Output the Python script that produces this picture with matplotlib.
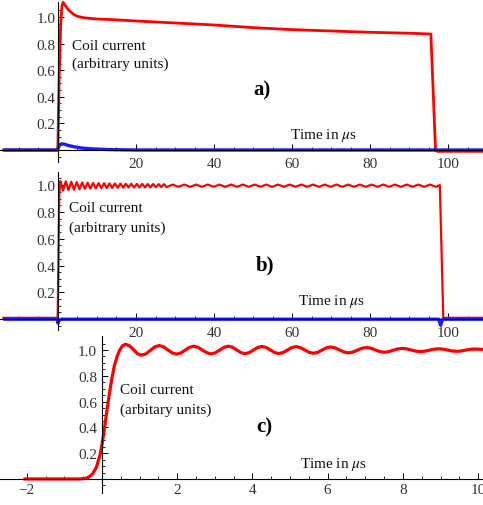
import numpy as np
import matplotlib
matplotlib.use("Agg")
import matplotlib.pyplot as plt
from matplotlib.ticker import FixedLocator, NullFormatter, FixedFormatter

plt.rcParams['font.family'] = ['Liberation Serif', 'DejaVu Serif']
plt.rcParams['mathtext.fontset'] = 'stix'

# ---------------- data ----------------
# panel a
ta_red = [-14.0, -0.05, 0.3, 0.7, 1.0, 1.3, 1.8, 2.5, 3.2, 4.0, 5.0, 6.5, 8.0, 10, 14, 20,
          30, 40, 50, 60, 70, 80, 90, 95.6, 96.8, 97.2, 110]
va_red = [0.0, 0.0, 0.55, 0.95, 1.08, 1.11, 1.09, 1.06, 1.04, 1.02, 1.005, 0.995, 0.99, 0.985,
          0.98, 0.97, 0.955, 0.94, 0.92, 0.905, 0.895, 0.885, 0.878, 0.872, 0.0, -0.01, -0.01]
ta_blue = [-13.6, -0.2, 0.3, 0.8, 1.5, 2.5, 4, 6, 9, 13, 20, 110]
va_blue = [0.0, 0.0, 0.03, 0.045, 0.045, 0.035, 0.025, 0.015, 0.008, 0.003, 0.0, 0.0]

# panel b
tb_red = [-14.0, -0.1, 0.1, 0.3, 0.5,
          0.6, 1.3, 2.0, 2.7, 3.4, 4.1, 4.8, 5.5, 6.2, 6.9, 7.6, 8.3, 9.0, 9.7, 10.4, 11.1,
          11.8, 12.5, 13.2, 13.9, 14.6, 15.3, 16.0, 16.7, 17.4, 18.1, 18.8, 19.5, 20.2, 20.9,
          21.6, 22.3, 23.0, 23.7, 24.4, 25.1, 25.8, 26.5, 27.2, 27.9,
          29.4, 30.9, 32.4, 33.9, 35.4, 36.9, 38.4, 39.9, 41.4, 42.9, 44.4, 45.9, 47.4, 48.9,
          50.4, 51.9, 53.4, 54.9, 56.4, 57.9, 59.4, 60.9, 62.4, 63.9, 65.4, 66.9, 68.4, 69.9,
          71.4, 72.9, 74.4, 75.9, 77.4, 78.9, 80.4, 81.9, 83.4, 84.9, 86.4, 87.9, 89.4, 90.9,
          92.4, 93.9, 95.4, 96.9, 97.9, 98.8, 99.3, 110]
vb_red = [0.01, 0.01, 0.4, 0.9, 1.0,
          1.03, 0.96, 1.028, 0.963, 1.025, 0.966, 1.022, 0.969, 1.02, 0.972, 1.018, 0.974,
          1.016, 0.976, 1.015, 0.977, 1.014, 0.978, 1.013, 0.979, 1.012, 0.98, 1.011, 0.981,
          1.01, 0.982, 1.01, 0.982, 1.009, 0.983, 1.009, 0.983, 1.008, 0.984, 1.008, 0.984,
          1.007, 0.985, 1.007, 0.985,
          1.004, 0.987, 1.004, 0.987, 1.004, 0.987, 1.004, 0.987, 1.004, 0.987, 1.004, 0.987,
          1.004, 0.987, 1.004, 0.987, 1.004, 0.987, 1.004, 0.987, 1.004, 0.987, 1.004, 0.987,
          1.004, 0.987, 1.004, 0.987, 1.004, 0.987, 1.004, 0.987, 1.004, 0.987, 1.004, 0.987,
          1.004, 0.987, 1.004, 0.987, 1.004, 0.987, 1.004, 0.987, 1.004, 0.987, 1.0, 0.0,
          0.01, 0.01]
tb_blue = [-13.6, -0.2, 0.0, 0.3, 0.8, 97.6, 98.1, 98.6, 110]
vb_blue = [0.0, 0.0, -0.03, -0.01, 0.0, 0.0, -0.045, 0.0, 0.0]

# panel c
tc = [-2.05, -0.6, -0.45, -0.35, -0.25, -0.15, -0.05, 0.0, 0.06, 0.12, 0.19, 0.26, 0.33,
      0.40, 0.47, 0.54, 0.62,
      0.73, 0.84, 0.94, 1.05, 1.17, 1.285, 1.40, 1.52, 1.635, 1.75, 1.865, 1.98,
      2.095, 2.21, 2.325, 2.44, 2.555, 2.67, 2.785, 2.90, 3.015, 3.13, 3.245, 3.36,
      3.47, 3.58, 3.69, 3.80, 3.9125, 4.025, 4.1375, 4.25, 4.3625, 4.475, 4.5875, 4.70,
      4.815, 4.93, 5.045, 5.16, 5.275, 5.39, 5.505, 5.62, 5.735, 5.85, 5.965, 6.08,
      6.1975, 6.315, 6.4325, 6.55, 6.67, 6.79, 6.91, 7.03, 7.1475, 7.265, 7.3825, 7.50,
      7.62, 7.74, 7.86, 7.98, 8.10, 8.22, 8.34, 8.46, 8.5825, 8.705, 8.8275, 8.95,
      9.07, 9.19, 9.31, 9.43, 9.5475, 9.665, 9.7825, 9.90, 10.13]
vc = [0.0, 0.0, 0.003, 0.015, 0.04, 0.09, 0.19, 0.27, 0.38, 0.51, 0.65, 0.78, 0.88,
      0.95, 1.0, 1.032, 1.045,
      1.033, 1.003, 0.972, 0.96, 0.971, 0.9975, 1.024, 1.035, 1.025, 1.0015, 0.978, 0.968,
      0.977, 0.999, 1.021, 1.03, 1.021, 1.0, 0.979, 0.97, 0.979, 1.0, 1.021, 1.03,
      1.0215, 1.001, 0.9805, 0.972, 0.98, 1.0, 1.02, 1.028, 1.02, 1.0, 0.981, 0.973,
      0.981, 1.0, 1.019, 1.027, 1.019, 1.001, 0.9826, 0.975, 0.982, 1.0, 1.017, 1.024,
      1.017, 1.001, 0.985, 0.978, 0.984, 0.999, 1.014, 1.02, 1.0146, 1.0015, 0.9884, 0.983,
      0.9874, 0.998, 1.0086, 1.013, 1.0093, 1.0005, 0.9917, 0.988, 0.9912, 0.999, 1.0068, 1.01,
      1.007, 1.0, 0.993, 0.99, 0.9926, 0.999, 1.0054, 1.008, 1.005]

ytick_major = [0.2, 0.4, 0.6, 0.8, 1.0]
ytick_labels = ['0.2', '0.4', '0.6', '0.8', '1.0']
xa_major = [20, 40, 60, 80, 100]
xa_labels = ['20', '40', '60', '80', '100']
xc_major = [-2, 2, 4, 6, 8, 10]
xc_labels = ['\u22122', '2', '4', '6', '8', '10']

W, H = 483, 506
fig = plt.figure(figsize=(W / 100, H / 100), dpi=100)


def add_ax(top_px, bottom_px):
    return fig.add_axes([0, 1 - bottom_px / H, 1, (bottom_px - top_px) / H])


def style(ax, xmaj, xlab, xmin, ymin_bound, ytop_bound, xpad, ypad):
    for s in ['top', 'right']:
        ax.spines[s].set_visible(False)
    ax.spines['left'].set_position(('data', 0))
    ax.spines['bottom'].set_position(('data', 0))
    ax.spines['left'].set_bounds(ymin_bound, ytop_bound)
    for s in ['left', 'bottom']:
        ax.spines[s].set_linewidth(0.8)
        ax.spines[s].set_zorder(6)
    ax.xaxis.set_major_locator(FixedLocator(xmaj))
    ax.xaxis.set_major_formatter(FixedFormatter(xlab))
    ax.xaxis.set_minor_locator(FixedLocator(xmin))
    ax.yaxis.set_major_locator(FixedLocator(ytick_major))
    ax.yaxis.set_major_formatter(FixedFormatter(ytick_labels))
    ymin_t = [v for v in np.arange(-0.05, 1.1, 0.05) if v >= ymin_bound - 1e-9
              and all(abs(v - m) > 1e-6 for m in ytick_major + [0.0])]
    ax.yaxis.set_minor_locator(FixedLocator(ymin_t))
    ax.tick_params(which='both', direction='in', colors='black', labelcolor='#333333',
                   labelsize=11)
    ax.tick_params(which='major', length=4.5, width=0.7)
    ax.tick_params(which='minor', length=2.5, width=0.6)
    ax.tick_params(axis='x', pad=xpad)
    ax.tick_params(axis='y', pad=ypad)
    ax.patch.set_alpha(0)


def ftext(x, y, s, **kw):
    fig.text(x / W, 1 - y / H, s, va='center', **kw)


# ----- panel a -----
axa = add_ax(0, 164.3)
axa.plot(ta_red, va_red, color='#ff0000', lw=2.0, zorder=3)
axa.plot(ta_blue, va_blue, color='#1a1aff', lw=2.4, zorder=4)
axa.set_xlim(-14.87, 108.97)
axa.set_ylim(-0.1, 1.1353)
xa_minor = [v for v in range(-10, 110, 5) if v not in xa_major and v != 0]
style(axa, xa_major, xa_labels, xa_minor, -0.09, 1.11, 5, 2)

# ----- panel b -----
axb = add_ax(168, 333.6)
axb.plot(tb_red, vb_red, color='#ff0000', lw=1.6, zorder=3)
axb.plot(tb_blue, vb_blue, color='#1a1aff', lw=2.4, zorder=4)
axb.set_xlim(-14.87, 108.97)
axb.set_ylim(-0.1, 1.135)
style(axb, xa_major, xa_labels, xa_minor, -0.08, 1.1, 5, 2)

# ----- panel c -----
axc = add_ax(337, 506)
axc.plot(tc, vc, color='#ff0000', lw=2.3, zorder=3)
axc.set_xlim(-2.713, 10.13)
axc.set_ylim(-0.202, 1.109)
xc_minor = [v for v in np.arange(-2, 10.01, 0.5) if all(abs(v - m) > 1e-6 for m in xc_major + [0])]
style(axc, xc_major, xc_labels, xc_minor, -0.11, 1.11, 3, 3.5)

# ----- texts -----
fs = 11
for (xx, y1, y2, line2) in [(72, 46, 64, '(arbitrary units)'),
                            (69, 209, 228, '(arbitrary units)'),
                            (120, 391, 410, '(arbitary units)')]:
    ftext(xx, y1, 'Coil current', fontsize=fs, color='#111111')
    ftext(xx, y2, line2, fontsize=fs, color='#111111')

for (xx, yy, s) in [(253, 90, 'a)'), (256, 265, 'b)'), (256, 427, 'c)')]:
    ftext(xx, yy, s, fontsize=15, fontweight='bold', color='black')

for (xx, yy) in [(290, 135), (298, 302), (300, 465)]:
    ftext(xx, yy, 'Time in $\\mu$s', fontsize=fs, color='#111111')

fig.savefig('out.png', dpi=100)
